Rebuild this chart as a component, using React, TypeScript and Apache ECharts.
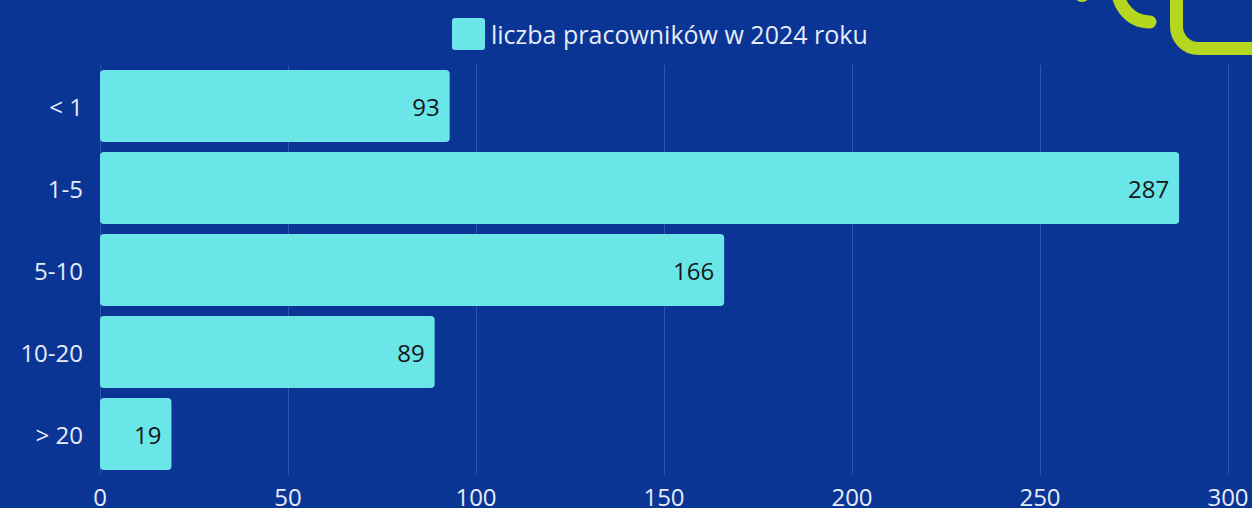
import React, { useEffect, useRef } from "react";
import * as echarts from "echarts";

const categories = ["< 1", "1-5", "5-10", "10-20", "> 20"];
const values = [93, 287, 166, 89, 19];
const seriesName = "liczba pracowników w 2024 roku";
const xTicks = { min: 0, max: 300, interval: 50 };

const BG = "#0a3595";
const BAR = "#6ae5e8";
const LIME = "#b6d71f";
const FONT = "Open Sans";
const TXT = "#e6ecf7";

export default function App() {
  const ref = useRef<HTMLDivElement>(null);
  useEffect(() => {
    document.body.style.margin = "0";
    const chart = echarts.init(ref.current!, null, { renderer: "svg" });
    chart.setOption({
      animation: false,
      backgroundColor: BG,
      textStyle: { fontFamily: FONT },
      legend: {
        top: 13,
        left: 447,
        itemWidth: 33,
        itemHeight: 32,
        icon: "path://M3,0 H30 Q33,0 33,3 V29 Q33,32 30,32 H3 Q0,32 0,29 V3 Q0,0 3,0 Z",
        textStyle: { color: TXT, fontSize: 25, fontFamily: FONT, padding: [0, 0, 0, 1] },
        data: [seriesName],
      },
      grid: { left: 100, right: 24, top: 65, bottom: 30, containLabel: false },
      xAxis: {
        type: "value",
        min: xTicks.min,
        max: xTicks.max,
        interval: xTicks.interval,
        axisLine: { show: false },
        axisTick: { show: false },
        splitLine: { lineStyle: { color: "rgba(255,255,255,0.16)", width: 1 } },
        axisLabel: { color: TXT, fontSize: 24, margin: 9, fontFamily: FONT },
      },
      yAxis: {
        type: "category",
        inverse: true,
        data: categories,
        axisLine: { show: false },
        axisTick: { show: false },
        axisLabel: { color: TXT, fontSize: 24, margin: 17, fontFamily: FONT },
      },
      series: [
        {
          name: seriesName,
          type: "bar",
          data: values,
          barCategoryGap: "12%",
          itemStyle: { color: BAR, borderRadius: 4 },
          label: {
            show: true,
            position: "insideRight",
            distance: 10,
            color: "#161616",
            fontSize: 24,
            fontFamily: FONT,
          },
        },
      ],
      graphic: [
        {
          type: "arc",
          shape: { cx: 1150, cy: -10, r: 32, startAngle: Math.PI / 2, endAngle: 3.4, clockwise: true },
          style: { stroke: LIME, lineWidth: 13, fill: "none", lineCap: "round" },
        },
        {
          type: "circle",
          shape: { cx: 1082, cy: -6, r: 8 },
          style: { fill: LIME },
        },
        {
          type: "rect",
          shape: { x: 1176.5, y: -80, width: 150, height: 128.5, r: 22 },
          style: { stroke: LIME, lineWidth: 13, fill: "none" },
        },
      ],
    });
    return () => chart.dispose();
  }, []);
  return <div ref={ref} style={{ width: 1252, height: 508 }} />;
}
